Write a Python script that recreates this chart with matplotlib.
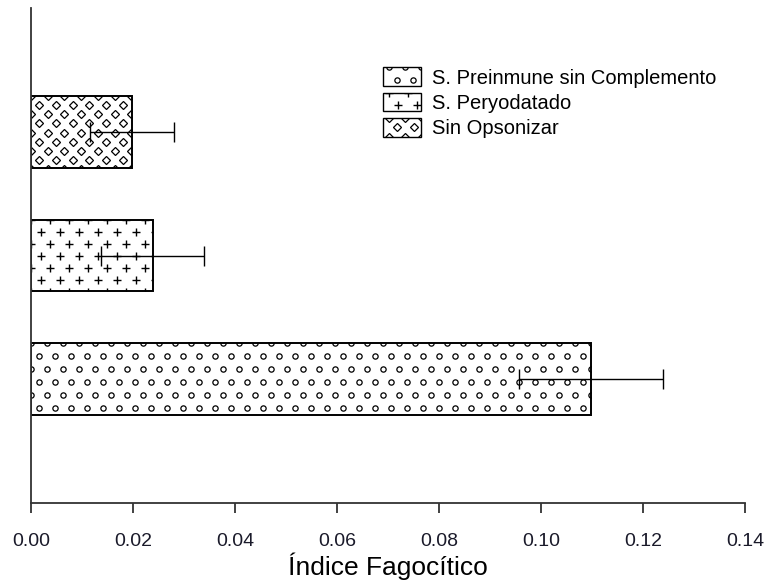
import numpy as np
import matplotlib
matplotlib.use("Agg")
import matplotlib.pyplot as plt
from matplotlib.patches import Rectangle
from matplotlib.lines import Line2D
from matplotlib.legend_handler import HandlerBase

plt.rcParams['font.family'] = ['Liberation Sans', 'DejaVu Sans']

# data
grupos = ['S. Preinmune sin Complemento', 'S. Peryodatado', 'Sin Opsonizar']
indice = [0.1098, 0.0239, 0.0198]
error = [0.0142, 0.0101, 0.0083]
xticks = [0.00, 0.02, 0.04, 0.06, 0.08, 0.10, 0.12, 0.14]

# fill pattern of each bar: marker, size (pt), edge width, grid dx, dy, stagger (px)
patrones = [
    ('o', 3.8, 0.9, 16.0, 13.0, 8.0),
    ('+', 5.8, 1.0, 19.0, 12.0, 9.5),
    ('D', 4.1, 0.9, 16.7, 9.2, 8.3),
]

W, H = 764, 583
fig = plt.figure(figsize=(W / 100, H / 100), dpi=100)
ax = fig.add_axes([31 / W, 1 - 503 / H, (745 - 31) / W, (503 - 8) / H])

ypos = np.arange(1, len(grupos) + 1)
ax.set_xlim(0, 0.14)
ax.set_ylim(0, 4)

barras = ax.barh(ypos, indice, height=0.58, color='white', edgecolor='none', zorder=2)


def rellenar(barra, marker, ms, mew, dx, dy, stag):
    # pattern grid laid out in pixels, then mapped back to data coords
    (x0, y0), (x1, y1) = ax.transData.transform(
        [(barra.get_x(), barra.get_y()),
         (barra.get_x() + barra.get_width(), barra.get_y() + barra.get_height())])
    xs, ys = [], []
    for i, yy in enumerate(np.arange(y1, y0 - dy, -dy)):
        off = 0 if i % 2 == 0 else stag
        for xx in np.arange(x0 + off, x1 + dx, dx):
            xs.append(xx)
            ys.append(yy)
    pts = ax.transData.inverted().transform(np.column_stack([xs, ys]))
    ln, = ax.plot(pts[:, 0], pts[:, 1], ls='none', marker=marker, ms=ms,
                  mfc='none', mec='black', mew=mew, zorder=2.1)
    ln.set_clip_path(barra)


for barra, pat in zip(barras, patrones):
    rellenar(barra, *pat)

ax.barh(ypos, indice, height=0.58, fill=False, edgecolor='black', linewidth=1.4,
        xerr=error, error_kw=dict(ecolor='black', elinewidth=1.0, capsize=7.2,
                                  capthick=1.0, zorder=3), zorder=2.5)

for s in ['top', 'right']:
    ax.spines[s].set_visible(False)
for s in ['left', 'bottom']:
    ax.spines[s].set_linewidth(1.3)
    ax.spines[s].set_color('#333333')

ax.set_yticks([])
ax.set_xticks(xticks)
ax.set_xticklabels([f'{t:.2f}' for t in xticks], fontsize=14, color='#1a1a2a')
ax.tick_params(axis='x', direction='out', length=7.5, width=1.3, color='#333333', pad=14)
ax.set_xlabel('Índice Fagocítico', fontsize=19, labelpad=2)


class HandlerPatron(HandlerBase):
    def __init__(self, marker, ms, mew, dx, dy, stag):
        super().__init__()
        self.p = (marker, ms, mew, dx * 0.72, dy * 0.72, stag * 0.72)

    def create_artists(self, legend, orig_handle, xdescent, ydescent,
                       width, height, fontsize, trans):
        marker, ms, mew, dx, dy, stag = self.p
        x0, y0 = -xdescent, -ydescent
        rect = Rectangle((x0, y0), width, height, facecolor='white',
                         edgecolor='black', linewidth=1.0, transform=trans)
        xs, ys = [], []
        for i, yy in enumerate(np.arange(y0 + height, y0 - dy, -dy)):
            off = 0 if i % 2 == 0 else stag
            for xx in np.arange(x0 + off + 4, x0 + width + dx, dx):
                xs.append(xx)
                ys.append(yy)
        ln = Line2D(xs, ys, ls='none', marker=marker, ms=ms, mfc='none',
                    mec='black', mew=mew, transform=trans)
        ln.set_clip_path(rect)
        return [rect, ln]


handles = [Rectangle((0, 0), 1, 1) for _ in grupos]
ax.legend(handles, grupos, handler_map={h: HandlerPatron(*p) for h, p in zip(handles, patrones)},
          loc='upper left', bbox_to_anchor=(0.493, 0.88), frameon=False,
          fontsize=14.5, handlelength=1.9, handleheight=1.04, handletextpad=0.55,
          labelspacing=0.26, borderpad=0, borderaxespad=0)

fig.savefig('out.png', dpi=100)
